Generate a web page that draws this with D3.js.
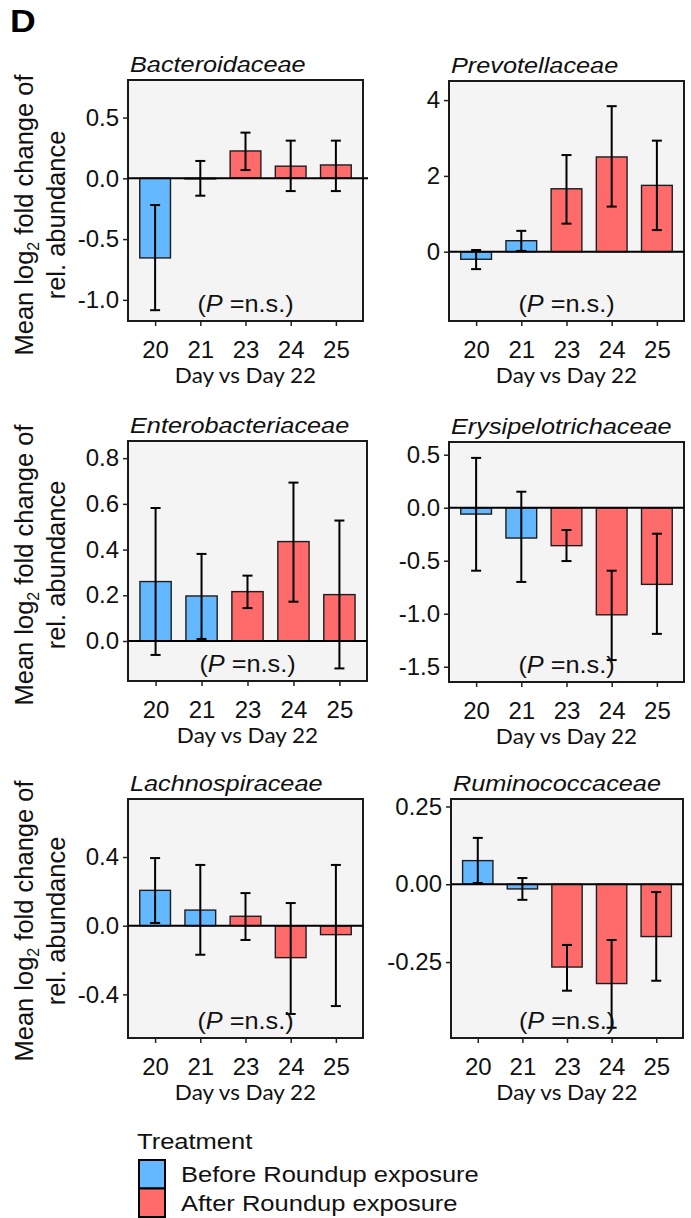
<!DOCTYPE html>
<html>
<head>
<meta charset="utf-8">
<script src="https://cdn.jsdelivr.net/npm/d3@7"></script>
<style>
  html, body { margin: 0; padding: 0; background: #ffffff; }
  svg { display: block; }
</style>
</head>
<body>
<svg id="chart" width="691" height="1218"></svg>
<script>
// Days compared against day 22, and the exposure group of each day
const days = ["20", "21", "23", "24", "25"];
const treatment = ["Before", "Before", "After", "After", "After"];
const treatmentLabels = ["Before Roundup exposure", "After Roundup exposure"];

// Mean log2 fold change with lower / upper error-bar ends, one set per family
const bacteroidaceaeMean = [-0.655, -0.005, 0.225, 0.10, 0.11];
const bacteroidaceaeLow  = [-1.085, -0.143, 0.068, -0.105, -0.105];
const bacteroidaceaeHigh = [-0.22, 0.143, 0.376, 0.31, 0.31];

const prevotellaceaeMean = [-0.2, 0.29, 1.66, 2.5, 1.75];
const prevotellaceaeLow  = [-0.46, 0.02, 0.74, 1.19, 0.57];
const prevotellaceaeHigh = [0.045, 0.55, 2.55, 3.84, 2.93];

const enterobacteriaceaeMean = [0.26, 0.197, 0.216, 0.435, 0.203];
const enterobacteriaceaeLow  = [-0.061, 0.009, 0.144, 0.172, -0.12];
const enterobacteriaceaeHigh = [0.582, 0.381, 0.286, 0.693, 0.527];

const erysipelotrichaceaeMean = [-0.06, -0.286, -0.358, -1.01, -0.723];
const erysipelotrichaceaeLow  = [-0.594, -0.70, -0.503, -1.437, -1.19];
const erysipelotrichaceaeHigh = [0.47, 0.151, -0.21, -0.594, -0.245];

const lachnospiraceaeMean = [0.206, 0.091, 0.055, -0.186, -0.052];
const lachnospiraceaeLow  = [0.016, -0.169, -0.083, -0.514, -0.468];
const lachnospiraceaeHigh = [0.394, 0.354, 0.19, 0.132, 0.354];

const ruminococcaceaeMean = [0.076, -0.015, -0.266, -0.319, -0.168];
const ruminococcaceaeLow  = [0.004, -0.05, -0.342, -0.461, -0.31];
const ruminococcaceaeHigh = [0.149, 0.02, -0.195, -0.179, -0.025];

// Y tick values and their printed labels
const bacteroidaceaeTicks = [-1.0, -0.5, 0.0, 0.5];
const bacteroidaceaeTickLabels = ["-1.0", "-0.5", "0.0", "0.5"];
const prevotellaceaeTicks = [0, 2, 4];
const prevotellaceaeTickLabels = ["0", "2", "4"];
const enterobacteriaceaeTicks = [0.0, 0.2, 0.4, 0.6, 0.8];
const enterobacteriaceaeTickLabels = ["0.0", "0.2", "0.4", "0.6", "0.8"];
const erysipelotrichaceaeTicks = [-1.5, -1.0, -0.5, 0.0, 0.5];
const erysipelotrichaceaeTickLabels = ["-1.5", "-1.0", "-0.5", "0.0", "0.5"];
const lachnospiraceaeTicks = [-0.4, 0.0, 0.4];
const lachnospiraceaeTickLabels = ["-0.4", "0.0", "0.4"];
const ruminococcaceaeTicks = [-0.25, 0.0, 0.25];
const ruminococcaceaeTickLabels = ["-0.25", "0.00", "0.25"];

const pLabel = "n.s.";

// Panel layout: box corners (px), y range shown, and how far the zero line runs past the right edge
const panels = [
  { name: "Bacteroidaceae", mean: bacteroidaceaeMean, low: bacteroidaceaeLow, high: bacteroidaceaeHigh,
    ticks: bacteroidaceaeTicks, tickLabels: bacteroidaceaeTickLabels,
    box: [128, 80, 363, 321], yDomain: [-1.174, 0.809], zeroOver: 5 },
  { name: "Prevotellaceae", mean: prevotellaceaeMean, low: prevotellaceaeLow, high: prevotellaceaeHigh,
    ticks: prevotellaceaeTicks, tickLabels: prevotellaceaeTickLabels,
    box: [449, 81, 684, 321], yDomain: [-1.829, 4.504], zeroOver: 0 },
  { name: "Enterobacteriaceae", mean: enterobacteriaceaeMean, low: enterobacteriaceaeLow, high: enterobacteriaceaeHigh,
    ticks: enterobacteriaceaeTicks, tickLabels: enterobacteriaceaeTickLabels,
    box: [128, 441, 367, 681], yDomain: [-0.175, 0.875], zeroOver: 0 },
  { name: "Erysipelotrichaceae", mean: erysipelotrichaceaeMean, low: erysipelotrichaceaeLow, high: erysipelotrichaceaeHigh,
    ticks: erysipelotrichaceaeTicks, tickLabels: erysipelotrichaceaeTickLabels,
    box: [449, 442, 684, 682], yDomain: [-1.644, 0.62], zeroOver: 0 },
  { name: "Lachnospiraceae", mean: lachnospiraceaeMean, low: lachnospiraceaeLow, high: lachnospiraceaeHigh,
    ticks: lachnospiraceaeTicks, tickLabels: lachnospiraceaeTickLabels,
    box: [128, 799, 363, 1038], yDomain: [-0.654, 0.738], zeroOver: 0 },
  { name: "Ruminococcaceae", mean: ruminococcaceaeMean, low: ruminococcaceaeLow, high: ruminococcaceaeHigh,
    ticks: ruminococcaceaeTicks, tickLabels: ruminococcaceaeTickLabels,
    box: [451, 799, 683, 1038], yDomain: [-0.494, 0.274], zeroOver: 0 }
];

// Vertical centre of the y-axis title for each row
const rowLabelCentres = [215, 565, 921];

const fill = d3.scaleOrdinal().domain(["Before", "After"]).range(["#63B8FF", "#FF6A6A"]);

const sans = "'Liberation Sans', Arial, Helvetica, sans-serif";
const svg = d3.select("#chart");

// Text placed at (x, y) and widened horizontally by sx
function wideText(parent, x, y, sx, size, anchor) {
  return parent.append("text")
    .attr("transform", `translate(${x},${y}) scale(${sx},1)`)
    .attr("text-anchor", anchor || "start")
    .attr("font-family", sans).attr("font-size", size).attr("fill", "#111");
}

wideText(svg, 10, 32, 1.15, 31).attr("font-weight", "bold").attr("fill", "#000").text("D");

panels.forEach((p, pi) => {
  const [x0, y0, x1, y1] = p.box;
  const x = d3.scalePoint().domain(days).range([x0, x1]).padding(0.6);
  const y = d3.scaleLinear().domain(p.yDomain).range([y1, y0]);
  const barW = x.step() * 0.68;
  const g = svg.append("g");

  // panel background
  g.append("rect")
    .attr("x", x0).attr("y", y0).attr("width", x1 - x0).attr("height", y1 - y0)
    .attr("fill", "#F4F4F4");

  // bars
  const rows = days.map((d, i) => ({ day: d, group: treatment[i], mean: p.mean[i], low: p.low[i], high: p.high[i] }));
  g.selectAll("rect.bar").data(rows).join("rect")
    .attr("class", "bar")
    .attr("x", d => x(d.day) - barW / 2)
    .attr("width", barW)
    .attr("y", d => Math.min(y(d.mean), y(0)))
    .attr("height", d => Math.abs(y(d.mean) - y(0)))
    .attr("fill", d => fill(d.group))
    .attr("stroke", "#1e1e1e").attr("stroke-width", 1.4);

  // error bars
  const capW = 5;
  const eb = g.selectAll("g.err").data(rows).join("g").attr("class", "err")
    .attr("stroke", "#000").attr("stroke-width", 2);
  eb.append("line")
    .attr("x1", d => x(d.day)).attr("x2", d => x(d.day))
    .attr("y1", d => y(d.low)).attr("y2", d => y(d.high));
  eb.append("line")
    .attr("x1", d => x(d.day) - capW).attr("x2", d => x(d.day) + capW)
    .attr("y1", d => y(d.low)).attr("y2", d => y(d.low));
  eb.append("line")
    .attr("x1", d => x(d.day) - capW).attr("x2", d => x(d.day) + capW)
    .attr("y1", d => y(d.high)).attr("y2", d => y(d.high));

  // P annotation
  const ann = wideText(g, x("23"), y1 - 9, 1.1, 23, "middle");
  ann.append("tspan").text("(");
  ann.append("tspan").attr("font-style", "italic").text("P");
  ann.append("tspan").text(" =" + pLabel + ")");

  // panel border
  g.append("rect")
    .attr("x", x0).attr("y", y0).attr("width", x1 - x0).attr("height", y1 - y0)
    .attr("fill", "none").attr("stroke", "#1a1a1a").attr("stroke-width", 2);

  // zero reference line
  g.append("line")
    .attr("x1", x0).attr("x2", x1 + p.zeroOver).attr("y1", y(0)).attr("y2", y(0))
    .attr("stroke", "#000").attr("stroke-width", 2);

  // y axis
  const yAxis = d3.axisLeft(y)
    .tickValues(p.ticks)
    .tickFormat((d, i) => p.tickLabels[i])
    .tickSize(5).tickPadding(4);
  const ya = g.append("g").attr("transform", `translate(${x0},0)`).call(yAxis);
  ya.select(".domain").remove();
  ya.selectAll(".tick line").attr("stroke", "#222").attr("stroke-width", 1.5);
  ya.selectAll(".tick text")
    .attr("font-family", sans).attr("font-size", 24).attr("fill", "#111");

  // x axis
  const xAxis = d3.axisBottom(x).tickSize(5).tickPadding(6);
  const xa = g.append("g").attr("transform", `translate(0,${y1})`).call(xAxis);
  xa.select(".domain").remove();
  xa.selectAll(".tick line").attr("stroke", "#222").attr("stroke-width", 1.5);
  xa.selectAll(".tick text")
    .attr("font-family", sans).attr("font-size", 24).attr("fill", "#111")
    .attr("dy", null).attr("y", 36.5);

  g.append("text")
    .attr("transform", `translate(${(x0 + x1) / 2},${y1 + 62}) scale(1.07,1)`)
    .attr("text-anchor", "middle")
    .attr("font-family", "Lato, 'Open Sans', sans-serif").attr("font-size", 21).attr("fill", "#111")
    .text("Day vs Day 22");

  // family title
  wideText(g, x0 + 2, y0 - 8.5, 1.15, 22).attr("font-style", "italic").text(p.name);

  // y-axis title on the left column
  if (pi % 2 === 0) {
    const cy = rowLabelCentres[pi / 2];
    const t = g.append("text")
      .attr("transform", `translate(33,${cy}) rotate(-90)`)
      .attr("text-anchor", "middle")
      .attr("font-family", sans).attr("font-size", 25.5).attr("fill", "#111");
    t.append("tspan").text("Mean log");
    t.append("tspan").attr("font-size", 16).attr("dy", 6).text("2");
    t.append("tspan").attr("dy", -6).text(" fold change of");
    g.append("text")
      .attr("transform", `translate(65,${cy}) rotate(-90)`)
      .attr("text-anchor", "middle")
      .attr("font-family", sans).attr("font-size", 25.5).attr("fill", "#111")
      .text("rel. abundance");
  }
});

// legend
const legend = svg.append("g");
wideText(legend, 137, 1149, 1.16, 22).text("Treatment");
const keyGroups = ["Before", "After"];
keyGroups.forEach((k, i) => {
  legend.append("rect")
    .attr("x", 139).attr("y", 1160 + i * 28.5).attr("width", 26).attr("height", 28.5)
    .attr("fill", fill(k)).attr("stroke", "#000").attr("stroke-width", 2);
  wideText(legend, 181, 1182 + i * 28.5, 1.16, 22).text(treatmentLabels[i]);
});
</script>
</body>
</html>
